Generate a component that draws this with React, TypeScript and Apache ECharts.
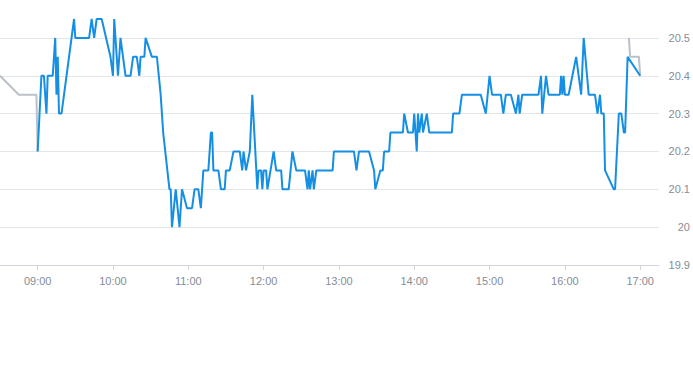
import React, { useEffect, useRef } from "react";
import * as echarts from "echarts";

// Intraday price (blue = regular session), grey = extended hours
const sessionTimes = [
  "09:00","09:03","09:05","09:07","09:08","09:12","09:14","09:15","09:16","09:17","09:19",
  "09:29","09:30","09:41","09:43","09:45","09:47","09:51","09:58","10:00","10:01","10:02",
  "10:04","10:06","10:10","10:14","10:16","10:19","10:21","10:22","10:25","10:26","10:31",
  "10:35","10:38","10:40","10:45","10:46","10:47","10:50","10:53","10:55","10:59","11:03",
  "11:05","11:08","11:10","11:12","11:16","11:18","11:19","11:20","11:24","11:26","11:29",
  "11:30","11:33","11:36","11:41","11:43","11:44","11:46","11:49","11:51","11:55","11:56",
  "11:58","11:59","12:00","12:02","12:03","12:08","12:10","12:14","12:15","12:20","12:23",
  "12:26","12:33","12:35","12:36","12:37","12:39","12:40","12:42","12:55","12:56","13:12",
  "13:14","13:16","13:24","13:28","13:29","13:33","13:35","13:36","13:40","13:41","13:51",
  "13:52","13:55","13:59","14:00","14:01","14:02","14:03","14:04","14:06","14:07","14:10",
  "14:12","14:30","14:31","14:36","14:38","14:53","14:57","15:00","15:02","15:09","15:11",
  "15:13","15:17","15:21","15:23","15:24","15:26","15:39","15:41","15:42","15:45","15:47",
  "15:56","15:57","15:58","15:59","16:00","16:03","16:06","16:09","16:13","16:15","16:19",
  "16:24","16:26","16:28","16:29","16:31","16:32","16:39","16:40","16:43","16:45","16:47",
  "16:48","16:50","17:00"
];
const sessionPrices = [
  20.2,20.4,20.4,20.3,20.4,20.4,20.5,20.35,20.45,20.3,20.3,
  20.55,20.5,20.5,20.55,20.5,20.55,20.55,20.45,20.4,20.55,20.5,
  20.4,20.5,20.4,20.4,20.45,20.45,20.4,20.45,20.45,20.5,20.45,
  20.45,20.35,20.25,20.1,20.1,20.0,20.1,20.0,20.1,20.05,20.05,
  20.1,20.1,20.05,20.15,20.15,20.25,20.25,20.15,20.15,20.1,20.1,
  20.15,20.15,20.2,20.2,20.15,20.2,20.15,20.2,20.35,20.1,20.15,
  20.15,20.1,20.15,20.15,20.1,20.2,20.15,20.15,20.1,20.1,20.2,
  20.15,20.15,20.1,20.15,20.1,20.15,20.1,20.15,20.15,20.2,20.2,
  20.15,20.2,20.2,20.15,20.1,20.15,20.15,20.2,20.2,20.25,20.25,
  20.3,20.25,20.25,20.3,20.25,20.2,20.3,20.25,20.3,20.25,20.3,
  20.25,20.25,20.3,20.3,20.35,20.35,20.3,20.4,20.35,20.35,20.3,
  20.35,20.35,20.3,20.35,20.3,20.35,20.35,20.4,20.3,20.4,20.35,
  20.35,20.4,20.35,20.4,20.35,20.35,20.4,20.45,20.35,20.5,20.35,
  20.35,20.3,20.35,20.3,20.3,20.15,20.1,20.1,20.3,20.3,20.25,
  20.25,20.45,20.4
];

const preTimes = ["08:30", "08:45", "08:59", "09:00"];
const prePrices = [20.4, 20.35, 20.35, 20.2];

const postTimes = ["16:51", "16:52", "16:59", "17:00"];
const postPrices = [20.5, 20.45, 20.45, 20.4];

const hourTicks = ["09:00","10:00","11:00","12:00","13:00","14:00","15:00","16:00","17:00"];

const toMin = (s: string) => {
  const [h, m] = s.split(":").map(Number);
  return h * 60 + m;
};
const fmt = (v: number) => {
  const h = Math.floor(v / 60);
  const m = Math.round(v % 60);
  return `${String(h).padStart(2, "0")}:${String(m).padStart(2, "0")}`;
};
const pairs = (t: string[], p: number[]) => t.map((s, i) => [toMin(s), p[i]]);

export default function App() {
  const ref = useRef<HTMLDivElement>(null);
  useEffect(() => {
    if (!ref.current) return;
    document.body.style.margin = "0";
    const chart = echarts.init(ref.current, undefined, { renderer: "svg" });
    const tickVals = hourTicks.map(toMin);
    const labelColor = "#858d97";
    const font = "Liberation Sans, Arial, sans-serif";
    chart.setOption({
      animation: false,
      grid: { left: 0, right: 30, top: 19, bottom: 100 },
      xAxis: {
        type: "value",
        min: toMin("08:30"),
        max: toMin("17:15"),
        axisLine: { show: true, lineStyle: { color: "#d3d7dd", width: 1 } },
        axisTick: {
          show: true,
          length: 5,
          lineStyle: { color: "#d3d7dd" },
          customValues: tickVals,
        },
        axisLabel: {
          color: labelColor,
          fontSize: 11,
          fontFamily: font,
          margin: 10,
          customValues: tickVals,
          formatter: (v: number) => fmt(v),
        },
        splitLine: { show: false },
      },
      yAxis: {
        type: "value",
        position: "right",
        min: 19.9,
        max: 20.55,
        interval: 0.1,
        axisLine: { show: false },
        axisTick: { show: false },
        axisLabel: {
          color: labelColor,
          fontSize: 11,
          fontFamily: font,
          align: "right",
          margin: 31,
          showMaxLabel: false,
          formatter: (v: number) => String(Math.round(v * 100) / 100),
        },
        splitLine: {
          show: true,
          showMaxLine: false,
          lineStyle: { color: "#e3e6ea", width: 1 },
        },
      },
      series: [
        {
          type: "line",
          data: pairs(preTimes, prePrices),
          showSymbol: false,
          lineStyle: { color: "#bac1c9", width: 2 },
          itemStyle: { color: "#bac1c9" },
        },
        {
          type: "line",
          data: pairs(postTimes, postPrices),
          showSymbol: false,
          lineStyle: { color: "#bac1c9", width: 2 },
          itemStyle: { color: "#bac1c9" },
        },
        {
          type: "line",
          data: pairs(sessionTimes, sessionPrices),
          showSymbol: false,
          lineStyle: { color: "#158fe3", width: 2 },
          itemStyle: { color: "#158fe3" },
        },
      ],
    });
    return () => chart.dispose();
  }, []);
  return <div ref={ref} style={{ width: 693, height: 365 }} />;
}
